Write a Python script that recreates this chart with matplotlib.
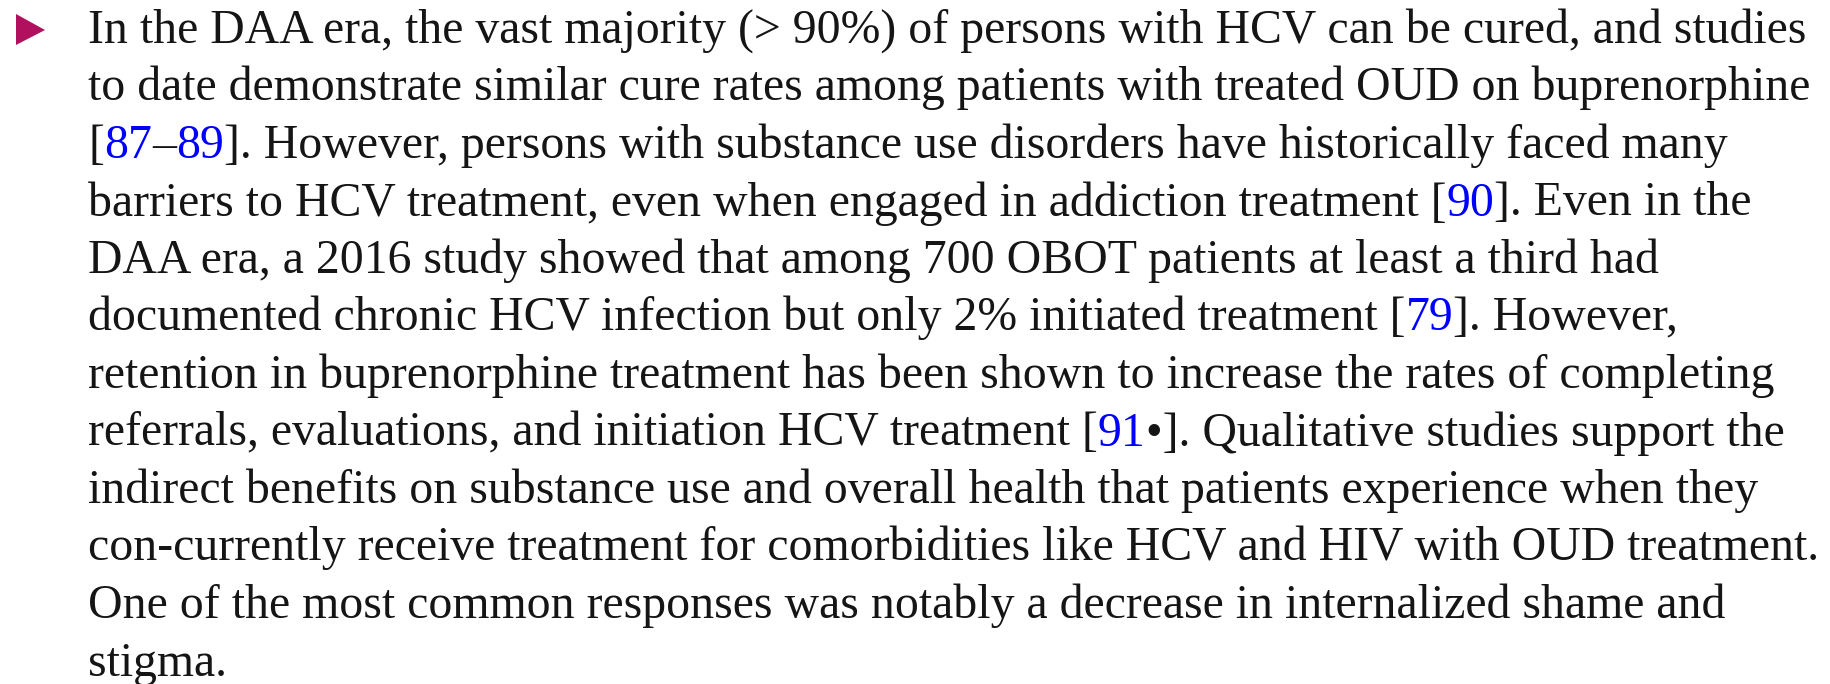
import matplotlib
matplotlib.use("Agg")
import matplotlib.pyplot as plt

# Paragraph content: each line is a list of (text, colour-key) segments
lines = [
    [("In the DAA era, the vast majority (> 90%) of persons with HCV can be cured, and studies", "k")],
    [("to date demonstrate similar cure rates among patients with treated OUD on buprenorphine", "k")],
    [("[", "k"), ("87", "b"), ("–", "k"), ("89", "b"), ("]. However, persons with substance use disorders have historically faced many", "k")],
    [("barriers to HCV treatment, even when engaged in addiction treatment [", "k"), ("90", "b"), ("]. Even in the", "k")],
    [("DAA era, a 2016 study showed that among 700 OBOT patients at least a third had", "k")],
    [("documented chronic HCV infection but only 2% initiated treatment [", "k"), ("79", "b"), ("]. However,", "k")],
    [("retention in buprenorphine treatment has been shown to increase the rates of completing", "k")],
    [("referrals, evaluations, and initiation HCV treatment [", "k"), ("91", "b"), ("•]. Qualitative studies support the", "k")],
    [("indirect benefits on substance use and overall health that patients experience when they", "k")],
    [("con-currently receive treatment for comorbidities like HCV and HIV with OUD treatment.", "k")],
    [("One of the most common responses was notably a decrease in internalized shame and", "k")],
    [("stigma.", "k")],
]
colors = {"k": "#151515", "b": "#0000ff"}
bullet_color = "#b0105e"

W, H = 1830, 684
fig = plt.figure(figsize=(W / 100, H / 100), dpi=100)
ax = fig.add_axes([0, 0, 1, 1])
ax.set_xlim(0, W)
ax.set_ylim(H, 0)
ax.axis("off")

family = ["Liberation Serif", "DejaVu Serif"]
renderer = fig.canvas.get_renderer()

# fit font size so that the first line spans the same width as the reference
x0, x_right = 88, 1808
probe = ax.text(0, 0, lines[0][0][0], fontsize=34, family=family)
w = probe.get_window_extent(renderer).width
probe.remove()
fs = 34 * (x_right - x0) / w


def text_width(s):
    if not s:
        return 0.0
    t = ax.text(0, 0, s, fontsize=fs, family=family)
    ww = t.get_window_extent(renderer).width
    t.remove()
    return ww

# bullet triangle
ax.fill([16, 16, 45], [14, 45, 30], color=bullet_color, lw=0)

y0, dy = 43, 57.5
for i, segs in enumerate(lines):
    y = y0 + i * dy
    prefix = ""
    for s, c in segs:
        x = x0 + text_width(prefix)
        ax.text(x, y, s, fontsize=fs, family=family, color=colors[c],
                va="baseline", ha="left")
        prefix += s

fig.savefig("out.png", dpi=100)
